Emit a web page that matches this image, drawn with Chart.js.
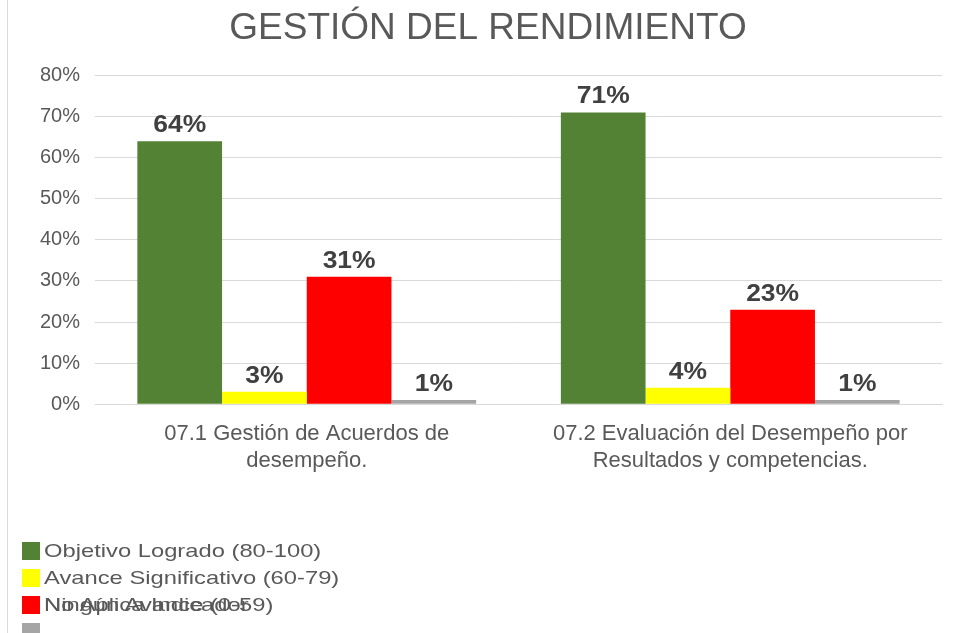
<!DOCTYPE html>
<html>
<head>
<meta charset="utf-8">
<script src="https://cdn.jsdelivr.net/npm/chart.js@4"></script>
<style>
  html, body { margin: 0; padding: 0; background: #fff; }
  #wrap { position: relative; width: 953px; height: 633px; overflow: hidden; }
  #edge { position: absolute; left: 7px; top: 0; width: 1px; height: 633px; background: #d9d9d9; }
  #legend { position: absolute; left: 22px; top: 540px; font-family: "Liberation Sans", Arial, sans-serif; font-size: 19px; color: #595959; }
  .item { position: absolute; left: 0; white-space: nowrap; height: 22px; line-height: 22px; }
  .txt { transform: scaleX(1.25); transform-origin: 0 50%; }
  .box { display: inline-block; width: 18px; height: 18px; vertical-align: -3px; }
</style>
</head>
<body>
<div id="wrap">
  <div id="edge"></div>
  <canvas id="chart" width="953" height="633"></canvas>
  <div id="legend"></div>
</div>
<script>
const categories = [
    ['07.1 Gestión de Acuerdos de', 'desempeño.'],
    ['07.2 Evaluación del Desempeño por', 'Resultados y competencias.']
];
const seriesNames = ['Objetivo Logrado (80-100)', 'Avance Significativo (60-79)', 'Ningún Avance (0-59)', 'No Aplica Indicador'];
const seriesColors = ['#548235', '#ffff00', '#ff0000', '#a5a5a5'];
const logrado = [64, 71];
const significativo = [3, 4];
const ningun = [31, 23];
const noAplica = [1, 1];
const yTicks = [0, 10, 20, 30, 40, 50, 60, 70, 80];

const allSeries = [logrado, significativo, ningun, noAplica];

// etiquetas de valor encima de cada barra
const valueLabels = {
    id: 'valueLabels',
    afterDatasetsDraw(chart) {
        const ctx = chart.ctx;
        chart.data.datasets.forEach((ds, i) => {
            chart.getDatasetMeta(i).data.forEach((bar, j) => {
                ctx.save();
                ctx.font = 'bold 23px "Liberation Sans", Arial, sans-serif';
                ctx.fillStyle = '#404040';
                ctx.textAlign = 'center';
                ctx.textBaseline = 'bottom';
                ctx.translate(bar.x, bar.y - 4);
                ctx.scale(1.15, 1);
                ctx.fillText(ds.data[j] + '%', 0, 0);
                ctx.restore();
            });
        });
    }
};

var ctx = document.getElementById('chart');
var myChart = new Chart(ctx, {
    type: 'bar',
    data: {
        labels: categories,
        datasets: allSeries.map((vals, i) => ({
            label: seriesNames[i],
            data: vals,
            backgroundColor: seriesColors[i],
            borderWidth: 0,
            categoryPercentage: 0.8,
            barPercentage: 1.0
        }))
    },
    options: {
        responsive: false,
        animation: false,
        layout: { padding: { left: 34, right: 11, top: 0, bottom: 150 } },
        plugins: {
            legend: { display: false },
            tooltip: { enabled: false },
            title: {
                display: true,
                text: 'GESTIÓN DEL RENDIMIENTO',
                color: '#595959',
                font: { family: '"Liberation Sans", Arial, sans-serif', size: 37, weight: 'normal' },
                padding: { top: 7, bottom: 24 }
            }
        },
        scales: {
            x: {
                grid: { display: false },
                border: { color: '#d9d9d9' },
                ticks: {
                    color: '#595959',
                    padding: 9,
                    maxRotation: 0,
                    font: { family: '"Liberation Sans", Arial, sans-serif', size: 22, lineHeight: 1.2 }
                }
            },
            y: {
                min: 0,
                max: 80,
                afterFit(scale) { scale.width = 61; },
                afterBuildTicks(scale) { scale.ticks = yTicks.map(v => ({ value: v })); },
                grid: { color: '#d9d9d9', drawTicks: false },
                border: { display: false },
                ticks: {
                    color: '#595959',
                    padding: 15,
                    font: { family: '"Liberation Sans", Arial, sans-serif', size: 20 },
                    callback: v => v + '%'
                }
            }
        }
    },
    plugins: [valueLabels]
});

// leyenda: la cuarta entrada se superpone al texto de la tercera, como en el original
const rowsY = [0, 27, 54, 81];
const textY = [0, 27, 54, 54];
const legend = document.getElementById('legend');
seriesNames.forEach((name, i) => {
    const box = document.createElement('div');
    box.className = 'item';
    box.style.top = rowsY[i] + 'px';
    box.innerHTML = '<span class="box" style="background:' + seriesColors[i] + '"></span>';
    legend.appendChild(box);
    const txt = document.createElement('div');
    txt.className = 'item txt';
    txt.style.left = '22px';
    txt.style.top = textY[i] + 'px';
    txt.textContent = name;
    legend.appendChild(txt);
});
</script>
</body>
</html>
